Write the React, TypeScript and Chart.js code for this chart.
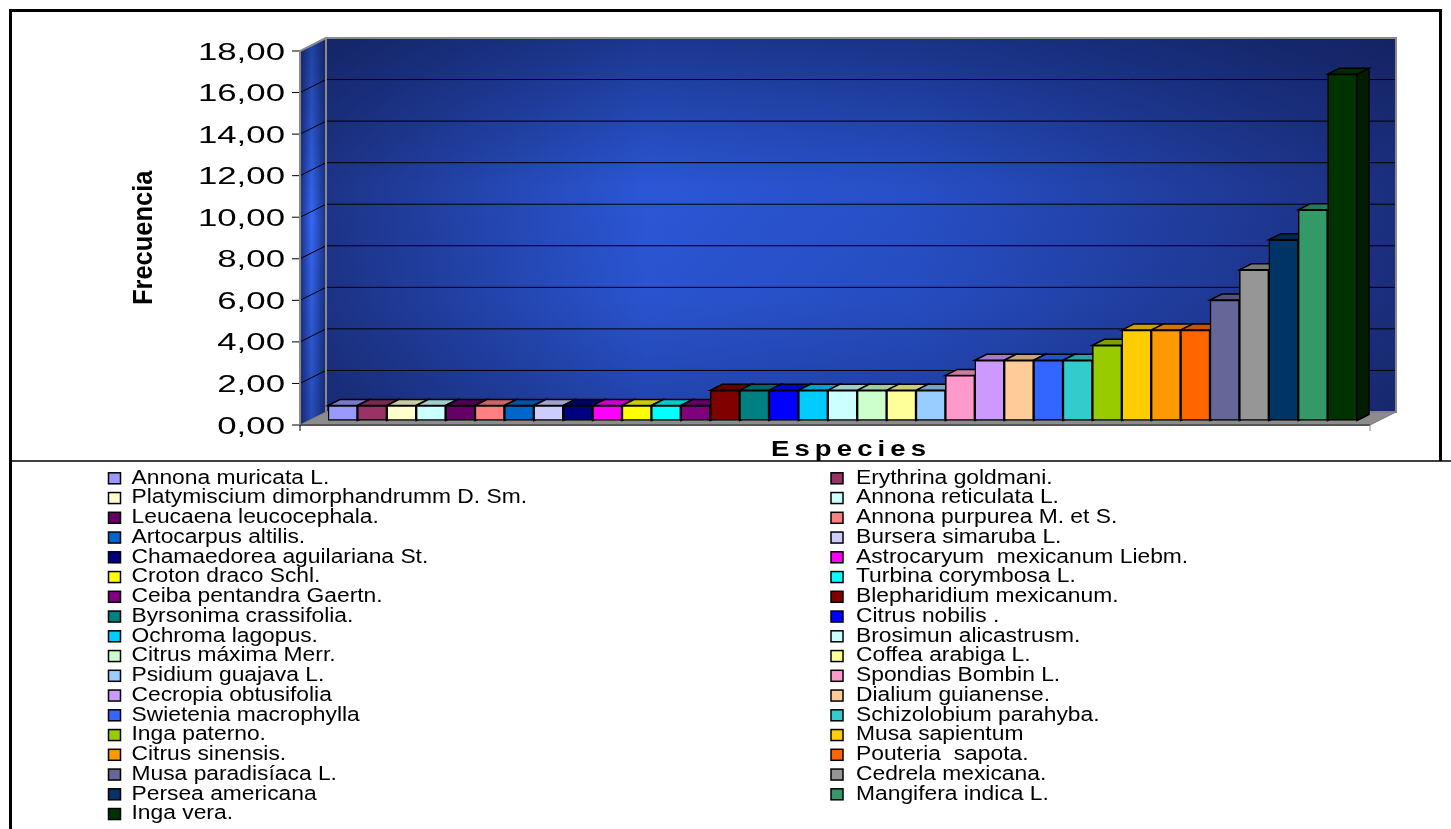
import { useEffect, useRef } from "react";
import { Chart, registerables } from "chart.js";

Chart.register(...registerables);

// ---------- data ----------
const species: string[] = [
  "Annona muricata L.",
  "Erythrina goldmani.",
  "Platymiscium dimorphandrumm D. Sm.",
  "Annona reticulata L.",
  "Leucaena leucocephala.",
  "Annona purpurea M. et S.",
  "Artocarpus altilis.",
  "Bursera simaruba L.",
  "Chamaedorea aguilariana St.",
  "Astrocaryum  mexicanum Liebm.",
  "Croton draco Schl.",
  "Turbina corymbosa L.",
  "Ceiba pentandra Gaertn.",
  "Blepharidium mexicanum.",
  "Byrsonima crassifolia.",
  "Citrus nobilis .",
  "Ochroma lagopus.",
  "Brosimun alicastrusm.",
  "Citrus máxima Merr.",
  "Coffea arabiga L.",
  "Psidium guajava L.",
  "Spondias Bombin L.",
  "Cecropia obtusifolia",
  "Dialium guianense.",
  "Swietenia macrophylla",
  "Schizolobium parahyba.",
  "Inga paterno.",
  "Musa sapientum",
  "Citrus sinensis.",
  "Pouteria  sapota.",
  "Musa paradisíaca L.",
  "Cedrela mexicana.",
  "Persea americana",
  "Mangifera indica L.",
  "Inga vera.",
];

const frequencies: number[] = [
  0.72, 0.72, 0.72, 0.72, 0.72, 0.72, 0.72, 0.72, 0.72, 0.72, 0.72, 0.72, 0.72,
  1.45, 1.45, 1.45, 1.45, 1.45, 1.45, 1.45, 1.45,
  2.17,
  2.9, 2.9, 2.9, 2.9,
  3.62,
  4.35, 4.35, 4.35,
  5.8, 7.25, 8.7, 10.14, 16.67,
];

const barColors: string[] = [
  "#9999FF", "#993366", "#FFFFCC", "#CCFFFF", "#660066", "#FF8080", "#0066CC",
  "#CCCCFF", "#000080", "#FF00FF", "#FFFF00", "#00FFFF", "#800080", "#800000",
  "#008080", "#0000FF", "#00CCFF", "#CCFFFF", "#CCFFCC", "#FFFF99", "#99CCFF",
  "#FF99CC", "#CC99FF", "#FFCC99", "#3366FF", "#33CCCC", "#99CC00", "#FFCC00",
  "#FF9900", "#FF6600", "#666699", "#969696", "#003366", "#339966", "#003300",
];

const yAxisTitle = "Frecuencia";
const xAxisTitle = "Especies";
const yMin = 0;
const yMax = 18;
const yStep = 2;

// ---------- helpers ----------
const FONT = '"Liberation Sans", Arial, sans-serif';

function shade(hex: string, f: number): string {
  const n = parseInt(hex.slice(1), 16);
  const r = Math.round(((n >> 16) & 255) * f);
  const g = Math.round(((n >> 8) & 255) * f);
  const b = Math.round((n & 255) * f);
  return `rgb(${r},${g},${b})`;
}

function drawStretched(
  ctx: CanvasRenderingContext2D,
  text: string,
  x: number,
  y: number,
  font: string,
  sx: number,
  align: "left" | "right" | "center",
  spacing = 0
) {
  ctx.save();
  ctx.font = font;
  ctx.textBaseline = "alphabetic";
  ctx.textAlign = "left";
  const chars = Array.from(text);
  const widths = chars.map((c) => ctx.measureText(c).width);
  const natural = spacing === 0 ? ctx.measureText(text).width : widths.reduce((a, b) => a + b, 0) + spacing * (chars.length - 1);
  const total = natural * sx;
  let start = x;
  if (align === "right") start = x - total;
  if (align === "center") start = x - total / 2;
  ctx.translate(start, y);
  ctx.scale(sx, 1);
  if (spacing === 0) {
    ctx.fillText(text, 0, 0);
  } else {
    let cx = 0;
    chars.forEach((c, i) => {
      ctx.fillText(c, cx, 0);
      cx += widths[i] + spacing;
    });
  }
  ctx.restore();
}

const WALL = { dx: 26, dy: -13 };
const BAR = { dx: 12, dy: -6 };

const excel3d = {
  id: "excel3d",
  beforeDraw(chart: any) {
    const ctx: CanvasRenderingContext2D = chart.ctx;
    const W = chart.width;
    const H = chart.height;
    const area = chart.chartArea;
    const ys = chart.scales.yAxis;
    ctx.save();
    ctx.fillStyle = "#ffffff";
    ctx.fillRect(0, 0, W, H);

    const fl = area.left - 28;
    const fr = area.right + 13;
    const yTop = ys.getPixelForValue(yMax);
    const yBot = ys.getPixelForValue(yMin);

    // side wall
    ctx.beginPath();
    ctx.moveTo(fl, yTop);
    ctx.lineTo(fl + WALL.dx, yTop + WALL.dy);
    ctx.lineTo(fl + WALL.dx, yBot + WALL.dy);
    ctx.lineTo(fl, yBot);
    ctx.closePath();
    const sg = ctx.createLinearGradient(fl, 0, fl + WALL.dx, 0);
    sg.addColorStop(0, "#1b3080");
    sg.addColorStop(0.45, "#3468f5");
    sg.addColorStop(1, "#1b3080");
    ctx.fillStyle = sg;
    ctx.fill();
    const sv = ctx.createLinearGradient(0, yTop, 0, yBot);
    sv.addColorStop(0, "rgba(12,22,70,0.45)");
    sv.addColorStop(0.45, "rgba(12,22,70,0)");
    sv.addColorStop(1, "rgba(12,22,70,0.35)");
    ctx.fillStyle = sv;
    ctx.fill();

    // back wall
    const bx0 = fl + WALL.dx;
    const bx1 = fr + WALL.dx;
    const by0 = yTop + WALL.dy;
    const by1 = yBot + WALL.dy;
    const bg = ctx.createLinearGradient(bx0, 0, bx1, 0);
    bg.addColorStop(0, "#1d3488");
    bg.addColorStop(0.3, "#2b57d6");
    bg.addColorStop(0.55, "#274fc6");
    bg.addColorStop(1, "#1b2f7e");
    ctx.fillStyle = bg;
    ctx.fillRect(bx0, by0, bx1 - bx0, by1 - by0);
    const bv = ctx.createLinearGradient(0, by0, 0, by1);
    bv.addColorStop(0, "rgba(12,22,70,0.5)");
    bv.addColorStop(0.4, "rgba(12,22,70,0)");
    bv.addColorStop(0.7, "rgba(12,22,70,0.05)");
    bv.addColorStop(1, "rgba(12,22,70,0.3)");
    ctx.fillStyle = bv;
    ctx.fillRect(bx0, by0, bx1 - bx0, by1 - by0);

    // gridlines
    ctx.strokeStyle = "#000000";
    ctx.lineWidth = 1;
    for (const t of ys.ticks) {
      const v = t.value;
      const py = ys.getPixelForValue(v);
      if (v > yMin && v < yMax) {
        ctx.beginPath();
        ctx.moveTo(bx0, py + WALL.dy);
        ctx.lineTo(bx1, py + WALL.dy);
        ctx.stroke();
        ctx.beginPath();
        ctx.moveTo(fl, py);
        ctx.lineTo(bx0, py + WALL.dy);
        ctx.stroke();
      }
      ctx.beginPath();
      ctx.moveTo(fl - 8, py);
      ctx.lineTo(fl, py);
      ctx.stroke();
    }

    // wall outlines
    ctx.strokeStyle = "#8a8a8a";
    ctx.lineWidth = 2;
    ctx.strokeRect(bx0, by0, bx1 - bx0, by1 - by0);
    ctx.beginPath();
    ctx.moveTo(fl, yBot);
    ctx.lineTo(fl, yTop);
    ctx.lineTo(bx0, by0);
    ctx.stroke();

    // floor
    ctx.beginPath();
    ctx.moveTo(fl, yBot);
    ctx.lineTo(bx0, by1);
    ctx.lineTo(bx1, by1);
    ctx.lineTo(fr, yBot);
    ctx.closePath();
    ctx.fillStyle = "#8c8c8c";
    ctx.fill();
    ctx.strokeStyle = "#7a7a7a";
    ctx.lineWidth = 1;
    ctx.stroke();

    // x axis front line and ticks
    ctx.strokeStyle = "#555555";
    ctx.lineWidth = 2;
    ctx.beginPath();
    ctx.moveTo(fl, yBot);
    ctx.lineTo(fr, yBot);
    ctx.stroke();
    ctx.lineWidth = 1;
    ctx.strokeStyle = "#000000";
    ctx.beginPath();
    ctx.moveTo(fl, yBot);
    ctx.lineTo(fl, yBot + 6);
    ctx.stroke();
    ctx.strokeStyle = "#888888";
    ctx.beginPath();
    ctx.moveTo(fr, yBot);
    ctx.lineTo(fr, yBot + 6);
    ctx.stroke();

    // outer frame
    ctx.strokeStyle = "#000000";
    ctx.lineWidth = 3;
    ctx.beginPath();
    ctx.moveTo(10.5, H);
    ctx.lineTo(10.5, 10.5);
    ctx.lineTo(1440.5, 10.5);
    ctx.lineTo(1440.5, 461);
    ctx.stroke();
    ctx.lineWidth = 1.5;
    ctx.beginPath();
    ctx.moveTo(10, 461);
    ctx.lineTo(W, 461);
    ctx.stroke();
    ctx.restore();
  },
  beforeDatasetsDraw(chart: any) {
    const ctx: CanvasRenderingContext2D = chart.ctx;
    const meta = chart.getDatasetMeta(0);
    ctx.save();
    ctx.lineWidth = 1.5;
    ctx.strokeStyle = "#000000";
    ctx.lineJoin = "miter";
    meta.data.forEach((bar: any, i: number) => {
      const { x, y, base, width } = bar.getProps(["x", "y", "base", "width"], true);
      const x1 = x - width / 2;
      const x2 = x + width / 2;
      const col = barColors[i % barColors.length];
      // side
      ctx.beginPath();
      ctx.moveTo(x2, y);
      ctx.lineTo(x2 + BAR.dx, y + BAR.dy);
      ctx.lineTo(x2 + BAR.dx, base + BAR.dy);
      ctx.lineTo(x2, base);
      ctx.closePath();
      ctx.fillStyle = shade(col, 0.6);
      ctx.fill();
      ctx.stroke();
      // top
      ctx.beginPath();
      ctx.moveTo(x1, y);
      ctx.lineTo(x1 + BAR.dx, y + BAR.dy);
      ctx.lineTo(x2 + BAR.dx, y + BAR.dy);
      ctx.lineTo(x2, y);
      ctx.closePath();
      ctx.fillStyle = shade(col, 0.8);
      ctx.fill();
      ctx.stroke();
    });
    ctx.restore();
  },
  afterDraw(chart: any) {
    const ctx: CanvasRenderingContext2D = chart.ctx;
    const area = chart.chartArea;
    const ys = chart.scales.yAxis;
    const fl = area.left - 28;
    ctx.save();
    ctx.fillStyle = "#000000";

    // y tick labels
    for (const t of ys.ticks) {
      const py = ys.getPixelForValue(t.value);
      const label = t.value.toFixed(2).replace(".", ",");
      drawStretched(ctx, label, fl - 15, py + 8.5, `24px ${FONT}`, 1.45, "right");
    }

    // y title (rotated)
    ctx.save();
    ctx.translate(151.5, 237.8);
    ctx.rotate(-Math.PI / 2);
    drawStretched(ctx, yAxisTitle, 0, 0, `bold 28px ${FONT}`, 0.91, "center");
    ctx.restore();

    // x title
    const xc = (area.left + area.right) / 2 + 6;
    drawStretched(ctx, xAxisTitle, xc, 456, `bold 22px ${FONT}`, 1.25, "center", 4.1);

    // legend
    const rowY0 = 478.3;
    const rowH = 19.75;
    const cols = [
      { sq: 108.5, tx: 131.5 },
      { sq: 831, tx: 856 },
    ];
    species.forEach((name, i) => {
      const row = Math.floor(i / 2);
      const col = cols[i % 2];
      const cy = rowY0 + row * rowH;
      ctx.fillStyle = barColors[i];
      ctx.fillRect(col.sq, cy - 5.5, 12, 11);
      ctx.strokeStyle = "#000000";
      ctx.lineWidth = 1.5;
      ctx.strokeRect(col.sq, cy - 5.5, 12, 11);
      ctx.fillStyle = "#000000";
      drawStretched(ctx, name, col.tx, cy + 5.2, `19.5px ${FONT}`, 1.17, "left");
    });
    ctx.restore();
  },
};

export default function App() {
  const canvasRef = useRef<HTMLCanvasElement | null>(null);

  useEffect(() => {
    const canvas = canvasRef.current;
    if (!canvas) return;
    const chart = new Chart(canvas, {
      type: "bar",
      data: {
        labels: species,
        datasets: [
          {
            label: "Frecuencia",
            data: frequencies,
            backgroundColor: barColors,
            borderColor: "#000000",
            borderWidth: 1.5,
            borderSkipped: false,
            barPercentage: 1,
            categoryPercentage: 1,
          },
        ],
      },
      options: {
        responsive: false,
        animation: false,
        devicePixelRatio: 1,
        layout: { padding: { left: 328, right: 94, top: 51, bottom: 404 } },
        plugins: {
          legend: { display: false },
          tooltip: { enabled: false },
          title: { display: false },
        },
        scales: {
          x: { type: "category", display: false, offset: true },
          y: { display: false, min: -4.5 / (374 / 18), max: yMax - 4.5 / (374 / 18) },
          yAxis: {
            display: false,
            position: "left",
            min: yMin,
            max: yMax,
            ticks: { stepSize: yStep },
          },
        },
      },
      plugins: [excel3d],
    });
    return () => chart.destroy();
  }, []);

  return (
    <div style={{ position: "fixed", left: 0, top: 0, width: 1451, height: 829, background: "#fff" }}>
      <canvas ref={canvasRef} width={1451} height={829} style={{ display: "block", width: 1451, height: 829 }} />
    </div>
  );
}
